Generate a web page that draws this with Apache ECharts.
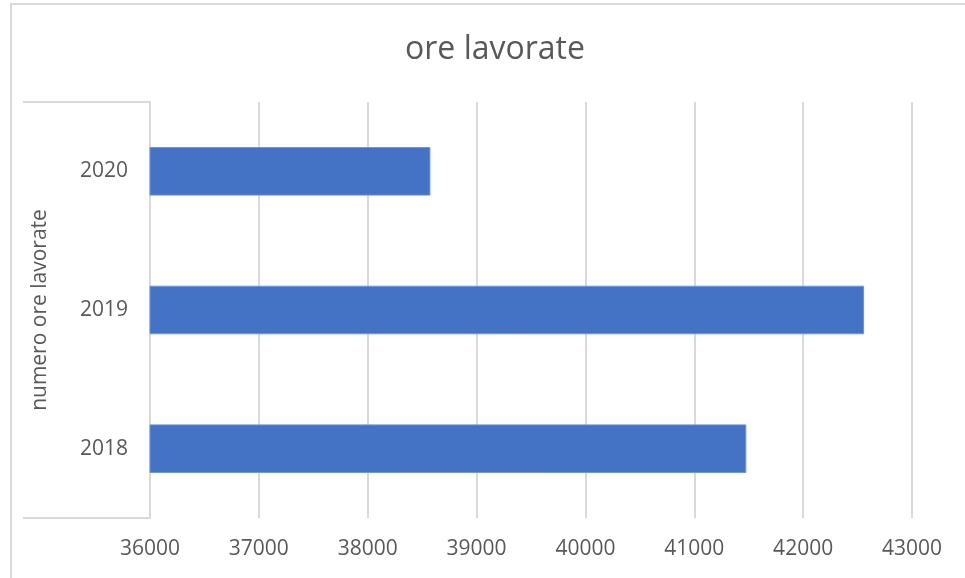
<!DOCTYPE html>
<html>
<head>
<meta charset="utf-8">
<script src="https://cdn.jsdelivr.net/npm/echarts@6/dist/echarts.min.js"></script>
<style>
html,body{margin:0;padding:0;background:#fff;}
#frame{position:absolute;left:10px;top:3px;width:955px;height:575px;border-top:2px solid #d9d9d9;border-left:2px solid #d9d9d9;}
#chart{position:absolute;left:0;top:0;width:965px;height:578px;}
</style>
</head>
<body>
<div id="frame"></div>
<div id="chart"></div>
<script>
const titleText = 'ore lavorate';
const axisName = 'numero ore lavorate';
const categories = ['2018', '2019', '2020'];
const values = [41478, 42560, 38576];
const xMin = 36000, xMax = 43000, xStep = 1000;

const chart = echarts.init(document.getElementById('chart'), null, {renderer: 'canvas'});
const font = '"Open Sans", "Noto Sans", sans-serif';
chart.setOption({
  animation: false,
  backgroundColor: 'transparent',
  title: {
    text: titleText,
    left: 490,
    textAlign: 'center',
    top: 29,
    textStyle: {fontFamily: font, fontSize: 32, fontWeight: 'normal', color: '#595959'}
  },
  grid: {left: 150, right: 53, top: 102, bottom: 60, containLabel: false},
  xAxis: {
    type: 'value', min: xMin, max: xMax, interval: xStep,
    axisLine: {show: false},
    axisTick: {show: false},
    splitLine: {show: true, lineStyle: {color: '#d9d9d9', width: 2}},
    axisLabel: {fontFamily: font, fontSize: 21, color: '#595959', margin: 21,
      formatter: function (v) { return String(v); }}
  },
  yAxis: [{
    type: 'category', data: categories,
    name: axisName, nameLocation: 'middle', nameGap: 99, nameRotate: 90,
    nameTextStyle: {fontFamily: font, fontSize: 21, color: '#595959'},
    axisLine: {show: true, lineStyle: {color: '#d9d9d9', width: 2}},
    axisTick: {show: false},
    axisLabel: {fontFamily: font, fontSize: 21, color: '#595959', margin: 22}
  }, {
    type: 'value', position: 'left', min: 0, max: 1, interval: 1,
    axisLine: {show: false},
    axisTick: {show: true, length: 127, lineStyle: {color: '#d9d9d9', width: 2}},
    axisLabel: {show: false},
    splitLine: {show: false}
  }],
  series: [{
    type: 'bar', yAxisIndex: 0, data: values, barWidth: '35%',
    itemStyle: {color: '#4472C4', borderColor: '#6f93d4', borderWidth: 1}
  }]
});
</script>
</body>
</html>
